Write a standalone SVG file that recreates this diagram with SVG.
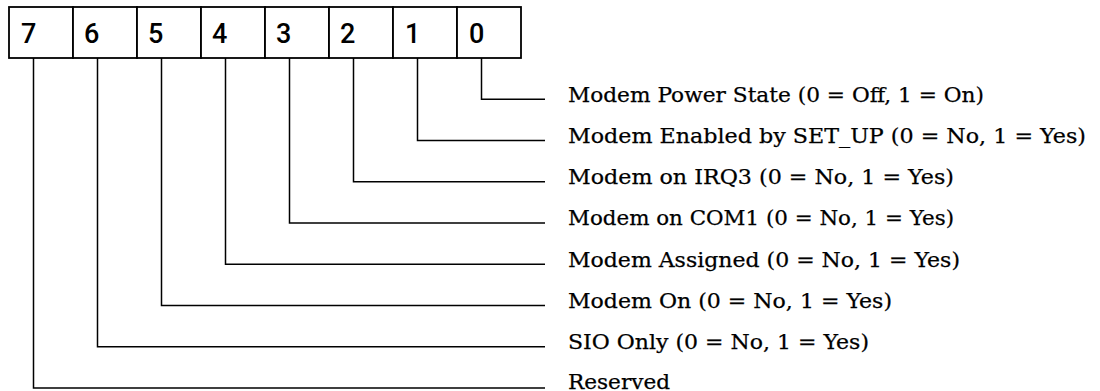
<svg xmlns="http://www.w3.org/2000/svg" width="1100" height="391" viewBox="0 0 1100 391">
<style>
.cell{fill:#fff;stroke:#000;stroke-width:1.8}
.dig{font-family:Roboto,"Liberation Sans",sans-serif;font-weight:500;font-size:27px;fill:#000}
.lbl{font-family:"DejaVu Serif","Liberation Serif",serif;font-size:21px;fill:#000;stroke:#000;stroke-width:0.25}
.conn{fill:none;stroke:#000;stroke-width:1.5}
</style>
<rect width="1100" height="391" fill="#fff"/>
<g id="register">
<g id="bit7"><rect class="cell" x="9" y="7" width="64" height="51"/><text class="dig" x="21" y="42.5">7</text></g>
<g id="bit6"><rect class="cell" x="73" y="7" width="64" height="51"/><text class="dig" x="84" y="42.5">6</text></g>
<g id="bit5"><rect class="cell" x="137" y="7" width="64" height="51"/><text class="dig" x="148" y="42.5">5</text></g>
<g id="bit4"><rect class="cell" x="201" y="7" width="64" height="51"/><text class="dig" x="212" y="42.5">4</text></g>
<g id="bit3"><rect class="cell" x="265" y="7" width="64" height="51"/><text class="dig" x="276" y="42.5">3</text></g>
<g id="bit2"><rect class="cell" x="329" y="7" width="64" height="51"/><text class="dig" x="340" y="42.5">2</text></g>
<g id="bit1"><rect class="cell" x="393" y="7" width="64" height="51"/><text class="dig" x="405" y="42.5">1</text></g>
<g id="bit0"><rect class="cell" x="457" y="7" width="64" height="51"/><text class="dig" x="469" y="42.5">0</text></g>
</g>
<g id="connectors">
<polyline class="conn" points="481.5,58 481.5,99.3 545,99.3"/>
<polyline class="conn" points="417.5,58 417.5,140.5 545,140.5"/>
<polyline class="conn" points="353.5,58 353.5,181.8 545,181.8"/>
<polyline class="conn" points="289.5,58 289.5,223 545,223"/>
<polyline class="conn" points="225.5,58 225.5,264.3 545,264.3"/>
<polyline class="conn" points="161.5,58 161.5,305.5 545,305.5"/>
<polyline class="conn" points="97.5,58 97.5,346.8 545,346.8"/>
<polyline class="conn" points="33.5,58 33.5,388 545,388"/>
</g>
<g id="label0"><text class="lbl" x="568" y="101.5" textLength="416" lengthAdjust="spacingAndGlyphs">Modem Power State (0 = Off, 1 = On)</text></g>
<g id="label1"><text class="lbl" x="568" y="142.7" textLength="518" lengthAdjust="spacingAndGlyphs">Modem Enabled by SET_UP (0 = No, 1 = Yes)</text></g>
<g id="label2"><text class="lbl" x="568" y="184" textLength="386" lengthAdjust="spacingAndGlyphs">Modem on IRQ3 (0 = No, 1 = Yes)</text></g>
<g id="label3"><text class="lbl" x="568" y="225.2" textLength="386" lengthAdjust="spacingAndGlyphs">Modem on COM1 (0 = No, 1 = Yes)</text></g>
<g id="label4"><text class="lbl" x="568" y="266.5" textLength="392" lengthAdjust="spacingAndGlyphs">Modem Assigned (0 = No, 1 = Yes)</text></g>
<g id="label5"><text class="lbl" x="568" y="307.7" textLength="324" lengthAdjust="spacingAndGlyphs">Modem On (0 = No, 1 = Yes)</text></g>
<g id="label6"><text class="lbl" x="568" y="349" textLength="301" lengthAdjust="spacingAndGlyphs">SIO Only (0 = No, 1 = Yes)</text></g>
<g id="label7"><text class="lbl" x="568" y="388.5" textLength="102" lengthAdjust="spacingAndGlyphs">Reserved</text></g>
</svg>
